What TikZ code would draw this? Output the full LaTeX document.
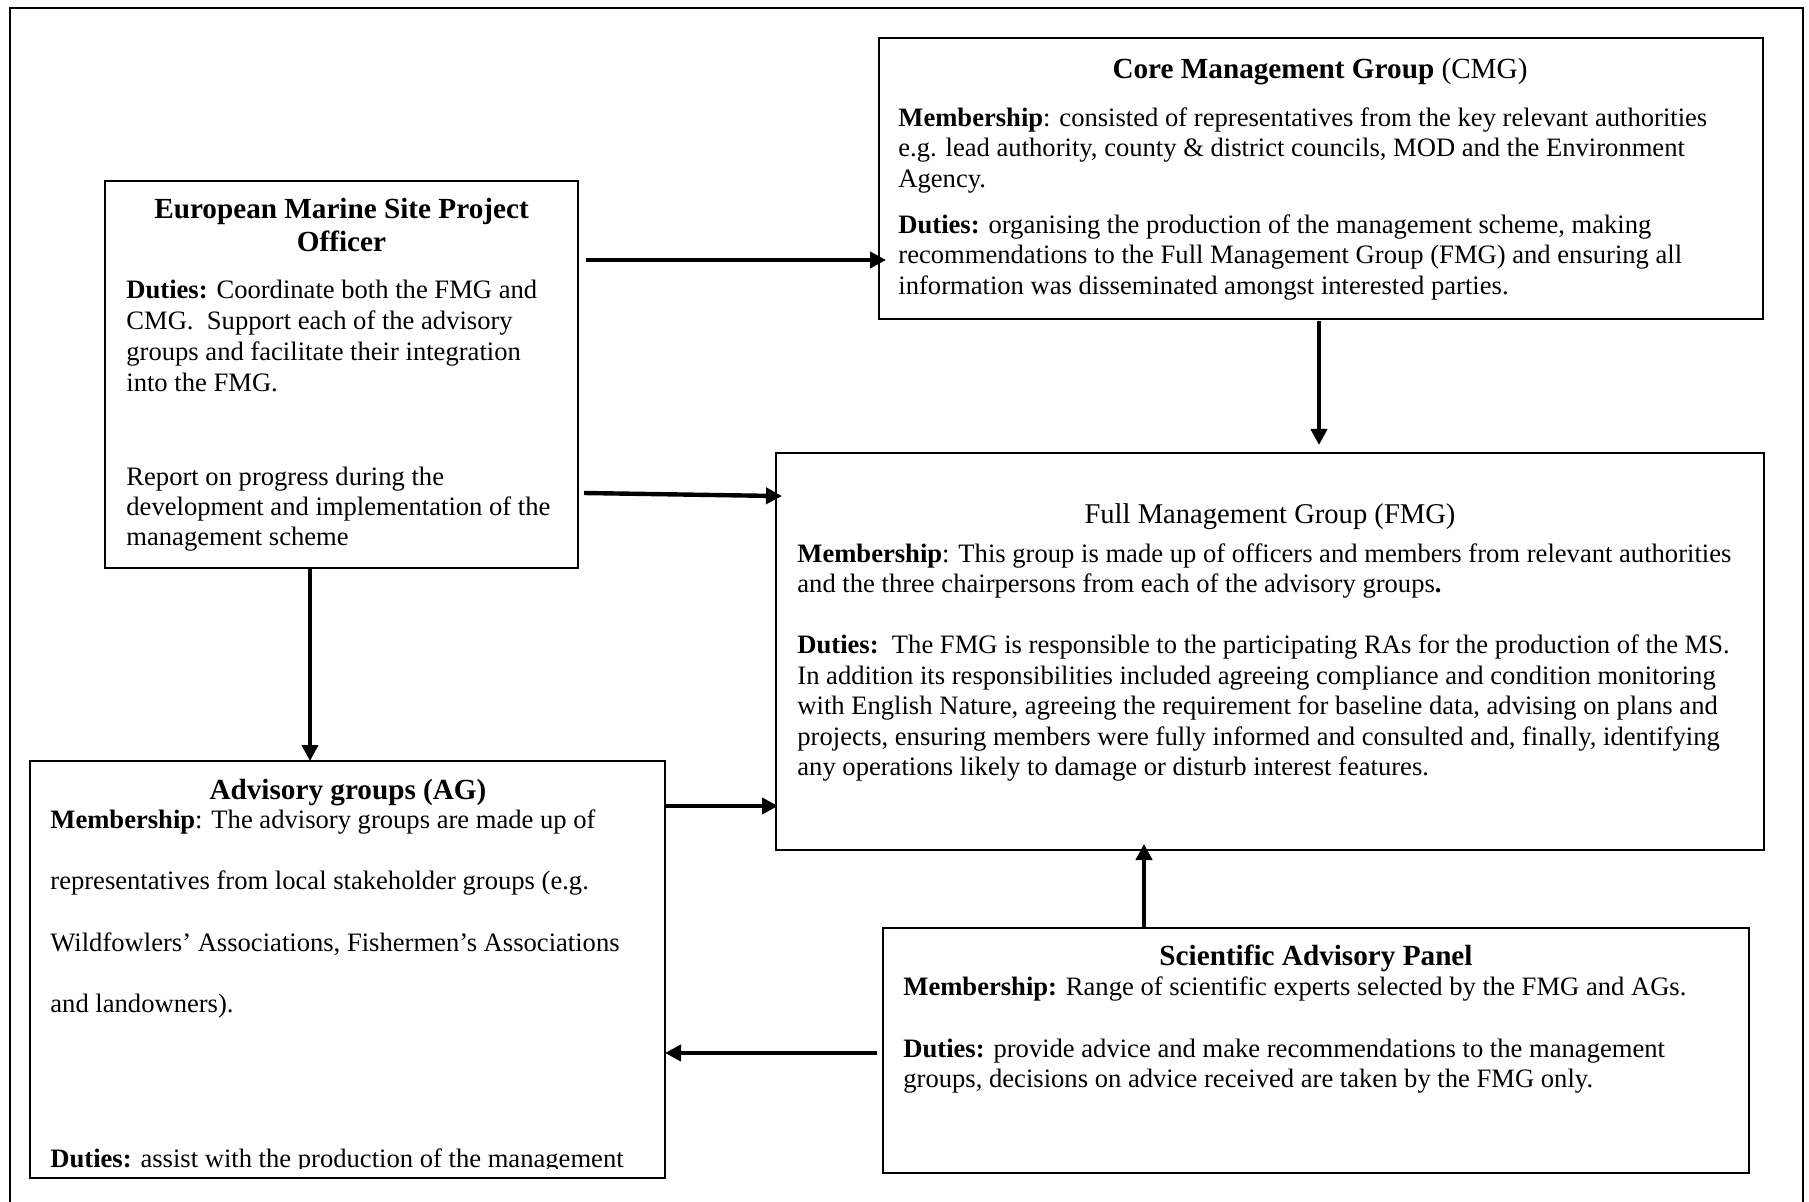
\documentclass[tikz,border=0pt]{standalone}
\usepackage{fontspec}
\setmainfont{Liberation Serif}
\usetikzlibrary{arrows.meta,calc}
\begin{document}
\begin{tikzpicture}[x=0.5pt,y=-0.5pt,
  box/.style={draw, line width=0.9pt, rectangle, anchor=north west, inner sep=0pt, outer sep=0pt},
  arr/.style={line width=2.2pt, -{Triangle[length=8pt,width=8pt]}},
  title/.style={font=\fontsize{14.6}{16.5}\selectfont\bfseries, inner sep=0pt, anchor=north, align=center},
  body/.style={font=\fontsize{13.3}{#1}\selectfont, inner sep=0pt, anchor=north west, align=left},
  body/.default=15.3]
\useasboundingbox (0,0) rectangle (1809,1202);
% outer frame (bottom edge lies outside the picture)
\draw[line width=1.1pt] (10,1210) -- (10,8) -- (1803,8) -- (1803,1210);

% boxes
\node[box, minimum width=236.5pt, minimum height=193.5pt] (off) at (105,181) {};
\node[box, minimum width=442pt, minimum height=140.5pt] (cmg) at (879,38) {};
\node[box, minimum width=494pt, minimum height=198.5pt] (fmg) at (776,453) {};
\node[box, minimum width=317.5pt, minimum height=208.5pt] (ag) at (30,761) {};
\node[box, minimum width=433pt, minimum height=122.5pt] (sap) at (883,928) {};

% Officer text
\node[title] (offT) at (341.5,195) {\strut European Marine Site Project\\Officer};
\node[body=15.5] (offD) at (126,276.3) {\strut\textbf{Duties:} Coordinate both the FMG and\\CMG.\ \ Support each of the advisory\\groups and facilitate their integration\\into the FMG.};
\node[body=15] (offR) at (126,464) {\strut Report on progress during the\\development and implementation of the\\management scheme};

% CMG text
\node[title] (cmgT) at (1320,54.9) {\strut Core Management Group \textmd{(CMG)}};
\node[body=15.25] (cmgM) at (898,104.6) {\strut\textbf{Membership}: consisted of representatives from the key relevant authorities\\e.g. lead authority, county \& district councils, MOD and the Environment\\Agency.};
\node[body=15.25] (cmgD) at (898,211.6) {\strut\textbf{Duties:} organising the production of the management scheme, making\\recommendations to the Full Management Group (FMG) and ensuring all\\information was disseminated amongst interested parties.};

% FMG text
\node[title, font=\fontsize{14.3}{16.5}\selectfont] (fmgT) at (1270,499.9) {\strut Full Management Group (FMG)};
\node[body=15] (fmgM) at (797,541) {\strut\textbf{Membership}: This group is made up of officers and members from relevant authorities\\and the three chairpersons from each of the advisory groups\textbf{.}};
\node[body=15.3] (fmgD) at (797,631.6) {\strut\textbf{Duties:}\ \ The FMG is responsible to the participating RAs for the production of the MS.\\In addition its responsibilities included agreeing compliance and condition monitoring\\with English Nature, agreeing the requirement for baseline data, advising on plans and\\projects, ensuring members were fully informed and consulted and, finally, identifying\\any operations likely to damage or disturb interest features.};

% AG text
\node[title] (agT) at (348,775.9) {\strut Advisory groups (AG)};
\node[body=15.3] (agM) at (50,806.6) {\strut\textbf{Membership}: The advisory groups are made up of\\[15.37pt]representatives from local stakeholder groups (e.g.\\[15.37pt]Wildfowlers’ Associations, Fishermen’s Associations\\[15.37pt]and landowners).};
\begin{scope}
\clip (30,761) rectangle (666,1168.5);
\node[body=15.3] (agD) at (50,1145.6) {\strut\textbf{Duties:} assist with the production of the management};
\end{scope}

% SAP text
\node[title] (sapT) at (1316,941.9) {\strut Scientific Advisory Panel};
\node[body=15.3] (sapM) at (903,973.6) {\strut\textbf{Membership:} Range of scientific experts selected by the FMG and AGs.};
\node[body=15] (sapD) at (903,1035.6) {\strut\textbf{Duties:} provide advice and make recommendations to the management\\groups, decisions on advice received are taken by the FMG only.};

% connectors
\coordinate (a1) at (586,260);
\draw[arr, shorten >=-3.5pt] (a1) -- (a1 -| cmg.west);
\coordinate (a2) at (584,493);
\draw[arr, shorten >=-3pt] (a2) -- ($(a2 -| fmg.west)+(0,3)$);
\coordinate (a3) at (1319,0);
\draw[arr, shorten <=1pt, shorten >=4pt] (cmg.south -| a3) -- (fmg.north -| a3);
\coordinate (a4) at (310,0);
\draw[arr] (off.south -| a4) -- (ag.north -| a4);
\coordinate (a5) at (0,806);
\draw[arr, shorten >=-1pt] (ag.east |- a5) -- (fmg.west |- a5);
\coordinate (a6) at (1144,0);
\draw[arr, shorten >=-3pt] (sap.north -| a6) -- (fmg.south -| a6);
\coordinate (a7) at (0,1053);
\draw[arr, shorten <=3pt] (sap.west |- a7) -- (ag.east |- a7);
\end{tikzpicture}
\end{document}
